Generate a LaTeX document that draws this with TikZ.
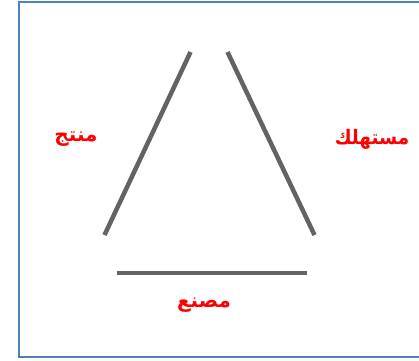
\documentclass[tikz,border=0pt]{standalone}
\usepackage{fontspec}
\usepackage{tikz}
\usetikzlibrary{positioning,calc}
\TeXXeTstate=1
\newfontfamily\arabicfont[Script=Arabic,BoldFont={DejaVu Sans Bold}]{DejaVu Sans}
\definecolor{frameblue}{HTML}{4F81BD}
\definecolor{sidegray}{HTML}{636366}
\definecolor{labelred}{HTML}{FF0000}

\begin{document}
\begin{tikzpicture}[
  x=1pt,y=-1pt,
  side/.style={draw=sidegray,line width=4.5pt},
  lbl/.style={text=labelred,font=\arabicfont\bfseries\fontsize{20}{24}\selectfont,inner sep=0pt}
]
\useasboundingbox (0,0) rectangle (419,360);
% frame
\begin{scope}
\clip (0,0) rectangle (419,360);
\draw[frameblue,line width=2pt] (19,2) rectangle (430,357);
\end{scope}

% triangle sides
\coordinate (lb) at (104.5,235);
\coordinate (lt) at (190.5,52);
\coordinate (rt) at (227.5,52);
\coordinate (rb) at (314.5,235);
\coordinate (bl) at (117,273);
\coordinate (br) at (307,273);
\draw[side] (lb) -- (lt);
\draw[side] (rt) -- (rb);
\draw[side] (bl) -- (br);

% labels
\node[lbl] (producer) at (76,139) {\beginR منتج\endR};
\node[lbl,xscale=0.92] (consumer) at (372,139) {\beginR مستهلك\endR};
\node[lbl] (factory) at (204,305) {\beginR مصنع\endR};
\end{tikzpicture}
\end{document}
